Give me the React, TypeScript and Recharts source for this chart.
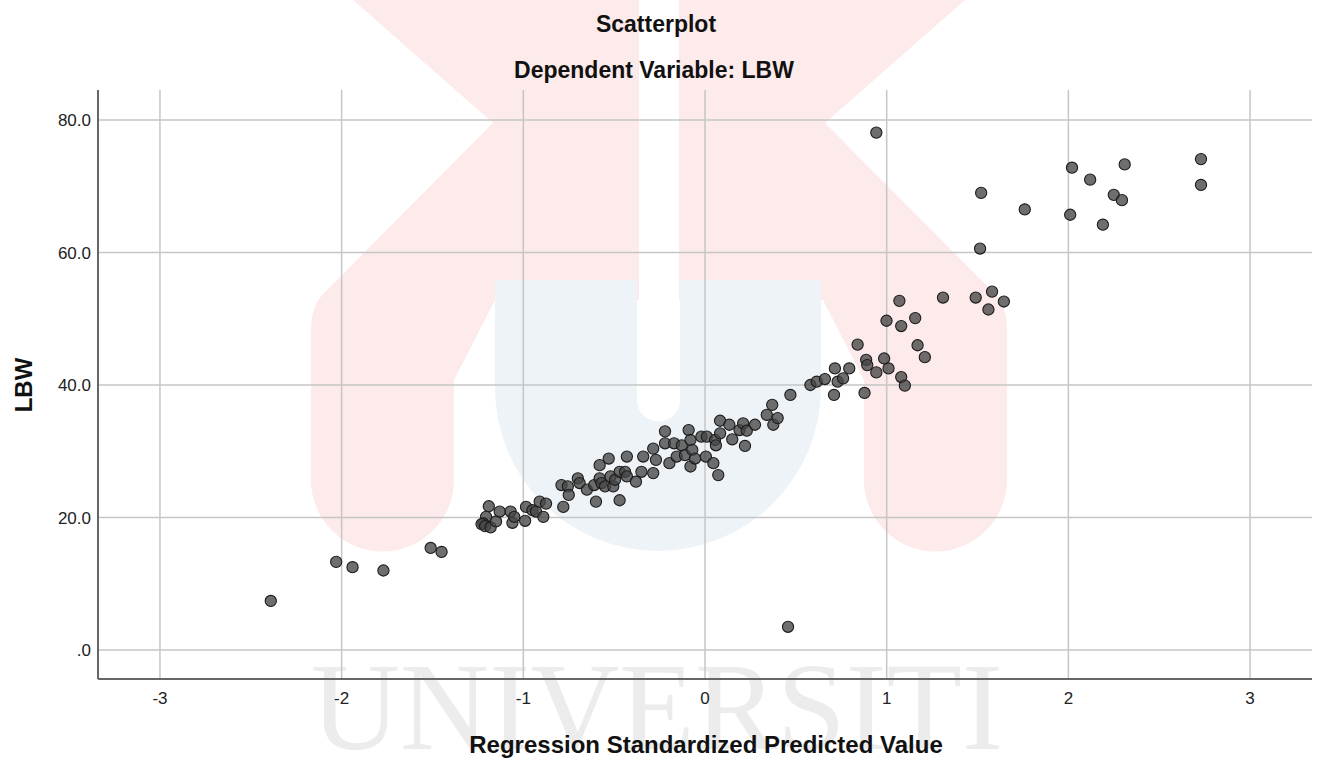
import { ScatterChart, Scatter, XAxis, YAxis, CartesianGrid } from "recharts";

const xTicks = [-3, -2, -1, 0, 1, 2, 3];
const yTicks = [0, 20, 40, 60, 80];
const xDomain = [-3.341, 3.341];
const yDomain = [-4.38, 84.53];

// Regression standardized predicted value (x) and LBW (y)
const predicted = [
  -2.39, -2.03, -1.94, -1.77, -1.51, -1.45,
  -1.19, -1.205, -1.22, -1.23, -1.21, -1.18, -1.15, -1.13, -1.07, -1.06, -1.05,
  -0.99, -0.985, -0.95, -0.93, -0.91, -0.875, -0.89,
  -0.79, -0.755, -0.75, -0.78, -0.7, -0.69, -0.65, -0.61, -0.6, -0.58, -0.53,
  -0.58, -0.57, -0.55, -0.52, -0.505, -0.495, -0.47, -0.47, -0.44, -0.43, -0.43,
  -0.38, -0.35, -0.34, -0.285, -0.285, -0.27, -0.22, -0.22, -0.196, -0.17,
  -0.156, -0.128, -0.11, -0.09, -0.08, -0.08, -0.07, -0.055, -0.02, 0.01,
  0.005, 0.046, 0.055, 0.06, 0.073, 0.083, 0.083, 0.134, 0.15, 0.19, 0.21,
  0.22, 0.23, 0.275, 0.34, 0.37, 0.376, 0.4, 0.47, 0.457,
  0.58, 0.615, 0.66, 0.71, 0.715, 0.73, 0.76, 0.794, 0.84, 0.878, 0.887,
  0.893, 0.943, 0.986, 1.01, 1.08, 1.1, 0.999, 1.08, 1.157, 1.17, 1.21,
  1.07, 1.31, 1.49, 1.58, 1.645, 1.56,
  0.943, 1.52, 1.514, 1.76, 2.02, 2.01, 2.12, 2.31, 2.25, 2.295, 2.19, 2.73, 2.73,
];
const lbw = [
  7.4, 13.3, 12.5, 12.0, 15.4, 14.8,
  21.7, 20.1, 19.1, 19.0, 18.7, 18.5, 19.4, 20.9, 20.9, 19.2, 20.1,
  19.5, 21.6, 21.1, 20.9, 22.4, 22.1, 20.1,
  24.9, 24.7, 23.4, 21.6, 25.9, 25.2, 24.2, 24.9, 22.4, 27.9, 28.9,
  25.9, 25.2, 24.7, 26.2, 24.7, 25.7, 22.6, 26.9, 26.9, 29.2, 26.2,
  25.4, 26.9, 29.2, 26.7, 30.4, 28.7, 33.0, 31.2, 28.2, 31.2,
  29.2, 30.9, 29.4, 33.2, 31.7, 27.7, 30.2, 28.9, 32.2, 32.2,
  29.2, 28.2, 31.7, 30.9, 26.4, 34.6, 32.7, 34.0, 31.8, 33.2, 34.2,
  30.8, 33.1, 34.0, 35.5, 37.0, 34.0, 35.0, 38.5, 3.5,
  40.0, 40.5, 40.9, 38.5, 42.5, 40.5, 41.0, 42.5, 46.1, 38.8, 43.8,
  43.0, 41.9, 44.0, 42.5, 41.2, 39.9, 49.7, 48.9, 50.1, 46.0, 44.2,
  52.7, 53.2, 53.2, 54.1, 52.6, 51.4,
  78.1, 69.0, 60.6, 66.5, 72.8, 65.7, 71.0, 73.3, 68.7, 67.9, 64.2, 74.1, 70.2,
];

const points = predicted.map((x, i) => ({ x, y: lbw[i] }));

const font = "'Liberation Sans', Arial, sans-serif";

const Dot = (props: any) => (
  <circle
    cx={props.cx}
    cy={props.cy}
    r={5.6}
    fill="#454545"
    fillOpacity={0.78}
    stroke="#1c1c1c"
    strokeWidth={1.1}
  />
);

// grid lines only at the tick values (no border at the top / right)
const gridY = (p: any) => {
  const s = p?.yAxis?.scale;
  if (typeof s === "function") return yTicks.map((t) => s(t));
  const o = p.offset;
  return yTicks.map((t) => o.top + (o.height * (yDomain[1] - t)) / (yDomain[1] - yDomain[0]));
};
const gridX = (p: any) => {
  const s = p?.xAxis?.scale;
  if (typeof s === "function") return xTicks.map((t) => s(t));
  const o = p.offset;
  return xTicks.map((t) => o.left + (o.width * (t - xDomain[0])) / (xDomain[1] - xDomain[0]));
};

export default function App() {
  return (
    <div style={{ position: "absolute", left: 0, top: 0, width: 1318, height: 761, background: "#fff" }}>
      {/* faint watermark behind the chart */}
      <svg width={1318} height={761} style={{ position: "absolute", left: 0, top: 0 }}>
        <path
          d="M 353 0 L 639 0 L 639 300 L 495 300 L 454 380 L 454 480 A 71.5 71.5 0 0 1 311 480 L 311 330 Q 311 305 325 292 L 493 123 Z"
          fill="#fdeaea"
        />
        <path
          d="M 965 0 L 679 0 L 679 300 L 823 300 L 864 380 L 864 480 A 71.5 71.5 0 0 0 1007 480 L 1007 330 Q 1007 305 993 292 L 825 123 Z"
          fill="#fdeaea"
        />
        <path
          d="M 495 280 L 637 280 L 637 400 A 21.5 21.5 0 0 0 680 400 L 680 280 L 821 280 L 821 388 A 163 163 0 0 1 495 388 Z"
          fill="#eef3f8"
        />
        <text
          x={311}
          y={749}
          fontFamily="'Liberation Serif', 'Times New Roman', serif"
          fontSize={124}
          fill="#ececec"
          textLength={692}
          lengthAdjust="spacingAndGlyphs"
        >
          UNIVERSITI
        </text>
      </svg>

      <div style={{ position: "absolute", left: 0, top: 0 }}>
        <ScatterChart width={1318} height={761} margin={{ top: 90, right: 6, bottom: 0, left: 0 }}>
          <CartesianGrid
            stroke="#c6c6c6"
            strokeWidth={1.5}
            horizontalCoordinatesGenerator={gridY}
            verticalCoordinatesGenerator={gridX}
          />
          <XAxis
            type="number"
            dataKey="x"
            domain={xDomain}
            ticks={xTicks}
            interval={0}
            allowDataOverflow
            height={82}
            axisLine={{ stroke: "#666", strokeWidth: 2 }}
            tickLine={false}
            tickSize={6}
            tickMargin={7}
            tick={{ fill: "#222", fontSize: 17, fontFamily: font }}
          />
          <YAxis
            type="number"
            dataKey="y"
            domain={yDomain}
            ticks={yTicks}
            interval={0}
            allowDataOverflow
            width={98}
            axisLine={{ stroke: "#666", strokeWidth: 2 }}
            tickLine={false}
            tickSize={6}
            tickMargin={1}
            tickFormatter={(v: number) => (v === 0 ? ".0" : v.toFixed(1))}
            tick={{ fill: "#222", fontSize: 17, fontFamily: font }}
          />
          <Scatter data={points} shape={Dot} isAnimationActive={false} />
        </ScatterChart>
      </div>

      {/* titles */}
      <svg width={1318} height={761} style={{ position: "absolute", left: 0, top: 0, pointerEvents: "none" }}>
        <g fontFamily={font} fontWeight="bold" fill="#111" textAnchor="middle">
          <text x={656} y={32} fontSize={23}>Scatterplot</text>
          <text x={654} y={78} fontSize={23}>Dependent Variable: LBW</text>
          <text x={706} y={753} fontSize={24}>Regression Standardized Predicted Value</text>
          <text x={32} y={385} fontSize={24} transform="rotate(-90 32 385)">LBW</text>
        </g>
      </svg>
    </div>
  );
}
